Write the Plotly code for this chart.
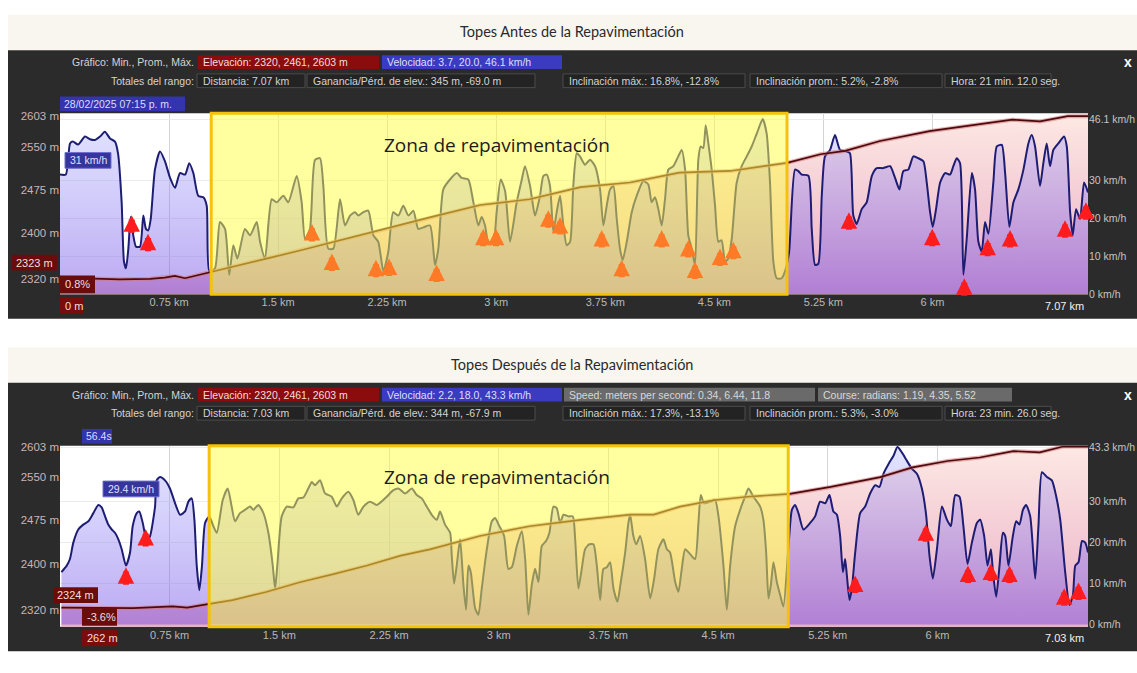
import plotly.graph_objects as go

W, H = 1137, 673

# ------------------------------------------------------------------ data
# Panel 1 (antes)
p1_title = "Topes Antes de la Repavimentación"
p1_total_km = 7.07
p1_zone = [1.04, 5.00]
p1_dist = [0.000, 0.040, 0.069, 0.089, 0.124, 0.172, 0.206, 0.241, 0.275, 0.309, 0.344, 0.378, 0.399, 0.424, 0.440,
           0.454, 0.470, 0.486, 0.504, 0.523, 0.550, 0.573, 0.591, 0.607, 0.624, 0.653, 0.688, 0.722, 0.757, 0.791,
           0.825, 0.860, 0.889, 0.917, 0.951, 0.986, 1.009, 1.027, 1.066, 1.100, 1.135, 1.164, 1.192, 1.220, 1.272,
           1.307, 1.353, 1.376, 1.410, 1.456, 1.490, 1.536, 1.570, 1.628, 1.662, 1.685, 1.719, 1.754, 1.788, 1.811,
           1.845, 1.880, 1.926, 1.960, 1.995, 2.029, 2.052, 2.086, 2.120, 2.155, 2.189, 2.224, 2.258, 2.292, 2.327,
           2.361, 2.396, 2.430, 2.464, 2.499, 2.545, 2.579, 2.602, 2.636, 2.682, 2.729, 2.763, 2.808, 2.843, 2.877,
           2.900, 2.923, 2.946, 2.980, 3.003, 3.031, 3.061, 3.095, 3.141, 3.176, 3.198, 3.233, 3.267, 3.301, 3.324,
           3.347, 3.370, 3.393, 3.416, 3.439, 3.462, 3.485, 3.508, 3.530, 3.554, 3.576, 3.611, 3.645, 3.680, 3.714,
           3.737, 3.760, 3.783, 3.806, 3.829, 3.851, 3.870, 3.898, 3.932, 3.966, 4.012, 4.046, 4.069, 4.092, 4.115,
           4.138, 4.161, 4.184, 4.218, 4.252, 4.276, 4.299, 4.321, 4.345, 4.367, 4.390, 4.406, 4.424, 4.441, 4.459,
           4.482, 4.505, 4.528, 4.550, 4.574, 4.596, 4.620, 4.654, 4.688, 4.723, 4.757, 4.792, 4.833, 4.860, 4.883,
           4.906, 4.929, 4.963, 4.986, 5.014, 5.055, 5.078, 5.101, 5.147, 5.170, 5.193, 5.215, 5.239, 5.261, 5.296,
           5.330, 5.365, 5.411, 5.433, 5.456, 5.479, 5.514, 5.548, 5.583, 5.617, 5.662, 5.709, 5.743, 5.773, 5.800,
           5.834, 5.869, 5.903, 5.938, 5.961, 5.984, 6.002, 6.025, 6.053, 6.087, 6.121, 6.144, 6.167, 6.190, 6.213,
           6.236, 6.271, 6.293, 6.316, 6.339, 6.362, 6.385, 6.419, 6.443, 6.477, 6.500, 6.529, 6.557, 6.591, 6.626,
           6.660, 6.683, 6.706, 6.740, 6.763, 6.786, 6.809, 6.832, 6.866, 6.905, 6.924, 6.947, 6.965, 6.988, 7.015,
           7.043, 7.070]
p1_speed = [31.5, 31.5, 39.7, 40.2, 39.4, 41.5, 40.8, 40.6, 41.5, 42.8, 41.0, 40.2, 37.1, 24.2, 8.6,
            6.8, 12.0, 20.3, 15.5, 12.5, 12.5, 20.7, 17.2, 16.8, 19.8, 32.8, 37.6, 35.0, 30.6, 28.0,
            31.9, 31.5, 34.5, 31.9, 25.9, 25.5, 23.3, 6.0, 6.8, 19.0, 17.2, 5.1, 12.9, 9.4, 17.2,
            15.5, 19.0, 13.8, 9.4, 25.0, 24.2, 25.9, 24.2, 31.1, 24.2, 14.6, 17.2, 35.4, 35.8, 28.5,
            12.0, 12.0, 25.0, 18.1, 20.7, 21.6, 20.7, 21.6, 22.0, 15.5, 13.8, 6.0, 11.2, 21.6, 20.7,
            23.3, 20.7, 22.0, 17.2, 17.6, 18.1, 7.7, 12.0, 27.6, 30.2, 31.9, 30.6, 30.2, 24.2, 18.1,
            20.3, 18.1, 13.8, 13.8, 21.6, 30.2, 27.2, 13.8, 24.2, 30.2, 33.7, 28.5, 20.7, 25.9, 31.1,
            31.5, 28.5, 16.4, 21.6, 25.9, 18.1, 12.9, 13.8, 28.5, 37.1, 36.3, 34.1, 35.4, 33.7, 27.6,
            18.1, 23.3, 27.6, 28.5, 19.8, 12.0, 9.0, 13.8, 21.6, 25.9, 29.8, 28.9, 24.2, 25.5, 22.4,
            18.1, 25.0, 32.8, 33.7, 36.3, 38.0, 32.8, 15.5, 12.0, 7.7, 35.4, 38.9, 38.5, 44.5, 39.7,
            32.8, 23.3, 13.8, 14.2, 8.6, 9.4, 14.6, 29.4, 33.7, 36.3, 38.9, 42.3, 46.1, 42.3, 29.4,
            8.6, 4.2, 4.2, 6.0, 11.0, 32.8, 32.4, 31.5, 31.2, 17.2, 7.7, 8.0, 25.9, 36.3, 38.0,
            41.9, 38.0, 37.6, 37.1, 20.7, 18.5, 22.4, 24.2, 31.1, 33.2, 33.2, 33.7, 30.6, 27.6, 32.4,
            32.8, 36.3, 35.8, 35.0, 29.4, 21.6, 17.7, 22.4, 29.4, 31.9, 31.5, 33.7, 35.8, 34.5, 5.1,
            14.6, 31.9, 27.6, 13.8, 11.2, 19.0, 15.9, 29.4, 38.9, 39.3, 31.9, 17.7, 24.2, 27.6, 32.8,
            39.7, 41.9, 38.9, 28.5, 34.5, 39.7, 33.7, 38.0, 39.7, 41.5, 38.9, 21.6, 15.5, 22.4, 19.8,
            29.4, 26.8]
p1_elev_dist = [0.00, 0.10, 0.21, 0.41, 0.62, 0.72, 0.79, 0.86, 0.96, 1.04, 1.08, 1.42, 1.65, 1.88, 2.11, 2.34,
                2.55, 2.89, 3.23, 3.58, 3.92, 4.26, 4.61, 5.00, 5.23, 5.40, 5.64, 5.98, 6.21, 6.55, 6.74, 6.93, 7.07]
p1_elev = [2323, 2322, 2321, 2320, 2321, 2323, 2326, 2322, 2328, 2333, 2336, 2356, 2370, 2385, 2399, 2414,
           2428, 2449, 2459, 2480, 2488, 2505, 2508, 2522, 2537, 2543, 2560, 2577, 2585, 2597, 2594, 2603, 2603]
p1_bump_dist = [0.493, 0.605, 1.733, 1.870, 2.173, 2.263, 2.590, 2.911, 2.999, 3.358, 3.439, 3.726, 3.863,
                4.138, 4.321, 4.367, 4.539, 4.631, 5.426, 5.999, 6.219, 6.380, 6.534, 6.912, 7.056]
p1_bump_speed = [20.8, 15.9, 18.5, 10.7, 9.1, 9.4, 7.8, 17.2, 17.2, 22.1, 20.3, 16.9, 9.1,
                 16.9, 14.3, 8.6, 12.0, 13.8, 21.6, 17.2, 4.2, 14.6, 16.9, 19.5, 24.2]
p1_speed_ticks = [0, 10, 20, 30, 46.1]
p1_speed_ticktext = ["0 km/h", "10 km/h", "20 km/h", "30 km/h", "46.1 km/h"]

# Panel 2 (después)
p2_title = "Topes Después de la Repavimentación"
p2_total_km = 7.03
p2_zone = [1.02, 4.98]
p2_dist = [0.010, 0.046, 0.068, 0.091, 0.125, 0.159, 0.194, 0.228, 0.262, 0.285, 0.308, 0.330, 0.354, 0.376, 0.399,
           0.422, 0.451, 0.479, 0.497, 0.525, 0.542, 0.566, 0.593, 0.616, 0.650, 0.661, 0.684, 0.718, 0.752, 0.787,
           0.821, 0.855, 0.878, 0.901, 0.919, 0.935, 0.953, 0.971, 0.992, 1.021, 1.049, 1.072, 1.113, 1.147, 1.174,
           1.197, 1.231, 1.265, 1.300, 1.322, 1.356, 1.391, 1.425, 1.455, 1.471, 1.486, 1.516, 1.551, 1.596, 1.630,
           1.664, 1.698, 1.722, 1.744, 1.778, 1.813, 1.858, 1.893, 1.927, 1.972, 2.006, 2.040, 2.075, 2.120, 2.166,
           2.234, 2.280, 2.314, 2.360, 2.406, 2.440, 2.474, 2.508, 2.542, 2.577, 2.599, 2.633, 2.668, 2.679, 2.695,
           2.713, 2.736, 2.759, 2.777, 2.793, 2.809, 2.839, 2.861, 2.884, 2.919, 2.953, 2.975, 3.005, 3.037, 3.066,
           3.090, 3.124, 3.158, 3.181, 3.203, 3.226, 3.249, 3.272, 3.295, 3.324, 3.347, 3.374, 3.397, 3.420, 3.443,
           3.477, 3.507, 3.523, 3.545, 3.568, 3.591, 3.620, 3.648, 3.671, 3.694, 3.716, 3.739, 3.762, 3.785, 3.812,
           3.835, 3.865, 3.887, 3.899, 3.921, 3.940, 3.967, 4.001, 4.036, 4.063, 4.092, 4.127, 4.150, 4.172, 4.207,
           4.229, 4.252, 4.275, 4.309, 4.343, 4.366, 4.382, 4.405, 4.446, 4.480, 4.503, 4.537, 4.560, 4.583, 4.617,
           4.651, 4.685, 4.708, 4.742, 4.788, 4.810, 4.829, 4.845, 4.861, 4.879, 4.902, 4.925, 4.947, 4.982, 5.005,
           5.027, 5.050, 5.084, 5.130, 5.164, 5.198, 5.233, 5.262, 5.289, 5.313, 5.335, 5.354, 5.369, 5.381, 5.399,
           5.415, 5.438, 5.472, 5.506, 5.540, 5.575, 5.604, 5.631, 5.666, 5.700, 5.727, 5.757, 5.791, 5.826, 5.860,
           5.894, 5.923, 5.946, 5.969, 5.997, 6.031, 6.065, 6.092, 6.122, 6.151, 6.178, 6.206, 6.236, 6.270, 6.293,
           6.320, 6.343, 6.366, 6.380, 6.402, 6.425, 6.448, 6.464, 6.486, 6.516, 6.539, 6.561, 6.585, 6.607, 6.635,
           6.669, 6.691, 6.715, 6.749, 6.783, 6.813, 6.840, 6.874, 6.903, 6.927, 6.943, 6.965, 6.989, 7.011, 7.030]
p2_speed = [12.8, 14.4, 16.0, 20.0, 23.2, 24.4, 25.2, 27.2, 29.2, 28.6, 26.4, 24.4, 23.2, 22.4, 20.8,
            18.4, 14.4, 17.6, 24.0, 27.2, 27.6, 24.8, 20.4, 21.6, 28.8, 35.2, 36.0, 35.2, 33.2, 29.6,
            26.8, 27.6, 30.0, 30.8, 25.6, 14.4, 8.4, 14.4, 24.8, 26.4, 24.0, 22.4, 30.4, 33.2, 28.8,
            25.2, 27.2, 28.0, 28.8, 28.0, 29.2, 27.2, 22.4, 14.4, 8.8, 14.4, 26.4, 28.8, 28.6, 30.8,
            31.0, 33.2, 34.8, 34.0, 35.2, 32.0, 31.2, 28.8, 30.8, 32.4, 30.4, 26.8, 28.8, 30.0, 29.2,
            31.2, 32.8, 33.2, 32.0, 33.2, 31.6, 30.8, 28.8, 26.8, 25.6, 27.6, 24.4, 22.4, 16.8, 10.0,
            14.4, 20.8, 9.6, 3.6, 14.4, 12.8, 4.0, 2.4, 8.8, 18.4, 25.2, 26.0, 24.0, 21.6, 13.6,
            14.0, 19.2, 22.8, 16.0, 2.4, 9.6, 13.6, 10.4, 19.2, 20.4, 22.4, 28.8, 28.4, 24.8, 26.8,
            26.4, 26.4, 20.8, 8.8, 13.6, 18.4, 19.6, 19.6, 14.4, 6.0, 13.6, 14.0, 15.2, 8.8, 5.6,
            10.4, 17.6, 24.8, 26.8, 21.6, 19.6, 21.6, 16.0, 6.4, 11.2, 18.4, 20.8, 18.4, 17.6, 10.4,
            8.0, 13.6, 18.4, 17.2, 16.0, 24.8, 31.6, 29.6, 30.0, 30.4, 26.4, 14.4, 3.6, 14.4, 24.0,
            28.0, 31.2, 33.2, 31.2, 28.8, 25.6, 17.6, 6.4, 9.6, 15.2, 10.4, 7.2, 4.4, 19.2, 28.0,
            29.2, 27.2, 23.2, 24.8, 26.4, 30.0, 29.6, 31.6, 27.6, 26.8, 21.6, 12.8, 16.0, 12.0, 6.0,
            8.8, 17.6, 27.2, 28.8, 32.0, 34.0, 33.6, 36.8, 39.2, 41.2, 43.3, 42.0, 40.0, 38.0, 36.8,
            33.2, 26.8, 16.8, 11.2, 18.4, 28.8, 25.6, 24.0, 31.6, 31.2, 24.0, 14.8, 20.0, 24.8, 25.6,
            21.6, 14.4, 18.4, 12.8, 6.8, 14.4, 22.4, 21.6, 14.4, 21.6, 25.2, 24.4, 28.0, 29.2, 26.4,
            11.2, 24.0, 37.2, 36.0, 35.2, 31.2, 25.6, 12.8, 4.8, 7.2, 14.4, 15.2, 20.4, 20.0, 17.6]
p2_elev_dist = [0.01, 0.14, 0.36, 0.50, 0.77, 0.87, 0.96, 1.03, 1.18, 1.41, 1.64, 1.87, 2.10, 2.33, 2.53, 2.87,
                3.21, 3.56, 3.90, 4.06, 4.24, 4.47, 4.70, 4.99, 5.27, 5.61, 5.83, 6.07, 6.29, 6.52, 6.70, 6.86, 7.03]
p2_elev = [2324, 2324, 2324, 2323, 2326, 2324, 2328, 2331, 2337, 2351, 2368, 2382, 2397, 2414, 2425, 2448,
           2465, 2476, 2485, 2485, 2499, 2510, 2516, 2521, 2533, 2550, 2567, 2578, 2584, 2595, 2593, 2603, 2603]
p2_bump_dist = [0.451, 0.586, 5.438, 5.921, 6.209, 6.366, 6.493, 6.867, 6.965]
p2_bump_speed = [14.0, 23.3, 12.0, 24.5, 14.4, 14.9, 14.4, 8.9, 10.3]
p2_speed_ticks = [0, 10, 20, 30, 43.3]
p2_speed_ticktext = ["0 km/h", "10 km/h", "20 km/h", "30 km/h", "43.3 km/h"]

elev_ticks = [2320, 2400, 2475, 2550, 2603]
elev_ticktext = ["2320 m", "2400 m", "2475 m", "2550 m", "2603 m"]
km_ticks = [0.75, 1.5, 2.25, 3, 3.75, 4.5, 5.25, 6]
km_ticktext = ["0.75 km", "1.5 km", "2.25 km", "3 km", "3.75 km", "4.5 km", "5.25 km", "6 km"]

p1_header = {
    "row1": ["Elevación: 2320, 2461, 2603 m", "Velocidad: 3.7, 20.0, 46.1 km/h"],
    "row2": ["Distancia: 7.07 km", "Ganancia/Pérd. de elev.: 345 m, -69.0 m",
             "Inclinación máx.: 16.8%, -12.8%", "Inclinación prom.: 5.2%, -2.8%", "Hora: 21 min. 12.0 seg."],
    "cursor": "28/02/2025 07:15 p. m.", "speed_lbl": "31 km/h", "elev_lbl": "2323 m",
    "grade_lbl": "0.8%", "dist_lbl": "0 m",
}
p2_header = {
    "row1": ["Elevación: 2320, 2461, 2603 m", "Velocidad: 2.2, 18.0, 43.3 km/h",
             "Speed: meters per second: 0.34, 6.44, 11.8", "Course: radians: 1.19, 4.35, 5.52"],
    "row2": ["Distancia: 7.03 km", "Ganancia/Pérd. de elev.: 344 m, -67.9 m",
             "Inclinación máx.: 17.3%, -13.1%", "Inclinación prom.: 5.3%, -3.0%", "Hora: 23 min. 26.0 seg."],
    "cursor": "56.4s", "speed_lbl": "29.4 km/h", "elev_lbl": "2324 m",
    "grade_lbl": "-3.6%", "dist_lbl": "262 m",
}

# ------------------------------------------------------------------ helpers
def px(x):
    return x / W


def py(y):
    return 1 - y / H


FONT = "Liberation Sans, Arial, sans-serif"
TITLE_FONT = "Lato, Open Sans, sans-serif"
ZONE_FONT = "Open Sans, Lato, sans-serif"

fig = go.Figure()
shapes = []
annotations = []


def rect(x0, y0, x1, y1, fill, line=None, lw=1, layer="above"):
    shapes.append(dict(type="rect", xref="paper", yref="paper", x0=px(x0), x1=px(x1), y0=py(y1), y1=py(y0),
                       fillcolor=fill, line=dict(color=line or "rgba(0,0,0,0)", width=lw if line else 0),
                       layer=layer))


def text(t, x, y, color="#d4d4d4", size=10.5, anchor="left", family=FONT):
    annotations.append(dict(text=t, xref="paper", yref="paper", x=px(x), y=py(y), xanchor=anchor,
                            yanchor="middle", showarrow=False, font=dict(color=color, size=size, family=family)))


def panel(k, top, title, total_km, zone, dist, speed, edist, elev, bdist, bspeed,
          sticks, sticktext, e_range, s_range, hdr, row1_boxes, extra_lbls):
    # top = y of the dark panel's top edge
    plot_top, plot_bot = top + 64, top + 64 + 184
    xa = "x" if k == 1 else "x2"
    ye, ys, yl = ("y", "y2", "y5") if k == 1 else ("y3", "y4", "y6")
    xkey = "xaxis" if k == 1 else "xaxis2"
    ekey, skey, lkey = ("yaxis", "yaxis2", "yaxis5") if k == 1 else ("yaxis3", "yaxis4", "yaxis6")

    # backgrounds
    rect(8, top - 36, W, top, "#f8f6ee", layer="below")
    rect(8, top, W, plot_bot + 25, "#2b2b2b", layer="below")
    rect(60, plot_top, 1088, plot_bot, "#ffffff", layer="below")
    text(title, 572, top - 19, color="#2a2a2a", size=14.5, anchor="center", family=TITLE_FONT)

    # traces
    fig.add_trace(go.Scatter(x=edist, y=elev, xaxis=xa, yaxis=ye, mode="lines", fill="tozeroy",
                             line=dict(width=0, color="rgba(0,0,0,0)"),
                             fillgradient=dict(type="vertical", start=e_range[0], stop=e_range[1],
                                               colorscale=[[0, "rgb(234,172,196)"], [1, "rgb(253,233,228)"]]),
                             hoverinfo="skip", showlegend=False))
    fig.add_trace(go.Scatter(x=dist, y=speed, xaxis=xa, yaxis=ys, mode="lines", fill="tozeroy",
                             line=dict(color="#1d1d74", width=2, shape="spline", smoothing=0.6),
                             fillgradient=dict(type="vertical", start=s_range[0], stop=s_range[1],
                                               colorscale=[[0, "rgba(118,78,228,0.50)"],
                                                           [1, "rgba(150,158,255,0.28)"]]),
                             hoverinfo="skip", showlegend=False))
    fig.add_trace(go.Scatter(x=edist, y=elev, xaxis=xa, yaxis=yl, mode="lines",
                             line=dict(color="rgba(215,120,120,0.6)", width=4), hoverinfo="skip",
                             showlegend=False))
    fig.add_trace(go.Scatter(x=edist, y=elev, xaxis=xa, yaxis=yl, mode="lines",
                             line=dict(color="#4a0b10", width=1.7), hoverinfo="skip", showlegend=False))

    dom_x = [px(60), px(1088)]
    dom_y = [py(plot_bot), py(plot_top)]
    fig.layout[xkey] = dict(domain=dom_x, range=[0, total_km], anchor=ye, tickvals=km_ticks,
                            ticktext=km_ticktext, showgrid=True, gridcolor="#d4d4d4", gridwidth=1,
                            zeroline=False, showline=False, ticks="",
                            tickfont=dict(color="#b8b8b8", size=11, family=FONT), fixedrange=True)
    fig.layout[ekey] = dict(domain=dom_y, range=e_range, anchor=xa, tickvals=elev_ticks,
                            ticktext=elev_ticktext, showgrid=False, zeroline=False, ticks="",
                            tickfont=dict(color="#cdb3b3", size=11.5, family=FONT), fixedrange=True)
    fig.layout[skey] = dict(range=s_range, overlaying=ye, side="right", anchor=xa, tickvals=sticks,
                            ticktext=sticktext, showgrid=True, gridcolor="#ececec", zeroline=False, ticks="",
                            tickfont=dict(color="#c4c4c4", size=10.5, family=FONT), fixedrange=True)
    fig.layout[lkey] = dict(range=e_range, overlaying=ye, visible=False, fixedrange=True)

    # repaving zone
    shapes.append(dict(type="rect", xref=xa, yref=f"{ye} domain", x0=zone[0], x1=zone[1], y0=0, y1=1,
                       fillcolor="rgba(255,255,70,0.52)", line=dict(color="#f4c20a", width=3), layer="above"))
    text("Zona de repavimentación", 497, plot_top + 32, color="#1c1c1c", size=19, anchor="center",
         family=ZONE_FONT)

    # speed bumps (arrows)
    for bx, bv in zip(bdist, bspeed):
        col = "#ff7a26" if zone[0] <= bx <= zone[1] else "#ff1c1c"
        annotations.append(dict(x=bx, y=bv, xref=xa, yref=ys, text="", showarrow=True, ax=0, ay=19,
                                arrowhead=2, arrowsize=0.55, arrowwidth=6, arrowcolor=col, standoff=0))

    # header rows
    r1, r2 = top + 12, top + 31
    text("Gráfico: Min., Prom., Máx.", 196, r1, anchor="right")
    text("Totales del rango:", 196, r2, anchor="right")
    row1_colors = ["#8a0c0c", "#3b3bc2", "#6a6a6a", "#6a6a6a"]
    row1_fg = ["#f3dede", "#dedeff", "#d8d8d8", "#d8d8d8"]
    for i, ((bx0, bx1), t) in enumerate(zip(row1_boxes, hdr["row1"])):
        rect(bx0, r1 - 7, bx1, r1 + 7, row1_colors[i])
        text(t, bx0 + 3, r1, color=row1_fg[i])
    row2_boxes = [(197, 305), (307, 535), (563, 745), (750, 942), (945, 1051)]
    for (bx0, bx1), t in zip(row2_boxes, hdr["row2"]):
        rect(bx0, r2 - 7, bx1, r2 + 7, "#232323", line="#4c4c4c")
        text(t, bx0 + 4, r2)
    text("<b>x</b>", 1128, r1, color="#ffffff", size=14, anchor="center")

    # cursor / readout labels
    (cx0, cx1), (sx0, sy), (ey) = extra_lbls
    rect(cx0, top + 47, cx1, top + 62, "#3434ae")
    text(hdr["cursor"], cx0 + 2, top + 54.5, color="#dcdcff")
    sw = 46 if len(hdr["speed_lbl"]) < 8 else 56
    rect(sx0, sy - 8, sx0 + sw, sy + 8, "#35359c", line="#6f6fd0")
    text(hdr["speed_lbl"], sx0 + 3, sy, color="#e0e0ff")
    ex0 = 12 if k == 1 else 53
    rect(ex0, ey - 8, ex0 + 45, ey + 8, "#6a0c0c")
    text(hdr["elev_lbl"], ex0 + 2, ey, color="#f2dcdc", size=11)
    gx0 = 60 if k == 1 else 82
    rect(gx0, plot_bot - 19, gx0 + 35, plot_bot - 1, "#6a0c0c")
    text(hdr["grade_lbl"], gx0 + 3, plot_bot - 10, color="#f2dcdc", size=11)
    dw = 23 if k == 1 else 35
    rect(gx0, plot_bot + 3, gx0 + dw, plot_bot + 20, "#7a0c0c")
    text(hdr["dist_lbl"], gx0 + 3, plot_bot + 11.5, color="#f2dcdc", size=11)
    text(f"{total_km:.2f} km", 1086, plot_bot + 12, color="#f2f2f2", size=11, anchor="right")


panel(1, 46, p1_title, p1_total_km, p1_zone, p1_dist, p1_speed, p1_elev_dist, p1_elev,
      p1_bump_dist, p1_bump_speed, p1_speed_ticks, p1_speed_ticktext, [2294.3, 2608.2], [0, 47.66],
      p1_header, [(198, 379), (382, 562)], ((60, 185), (65, 158), 262))
panel(2, 384, p2_title, p2_total_km, p2_zone, p2_dist, p2_speed, p2_elev_dist, p2_elev,
      p2_bump_dist, p2_bump_speed, p2_speed_ticks, p2_speed_ticktext, [2291, 2604.5], [-0.5, 43.65],
      p2_header, [(198, 379), (382, 562), (564, 815), (818, 1012)], ((82, 112), (103, 492), 600))

fig.update_layout(width=W, height=H, margin=dict(l=0, r=0, t=0, b=0), paper_bgcolor="#ffffff",
                  plot_bgcolor="rgba(0,0,0,0)", shapes=shapes, annotations=annotations, showlegend=False,
                  font=dict(family=FONT), hovermode=False)
fig.write_html("out.html", config={"displayModeBar": False, "staticPlot": True},
               post_script="document.body.style.margin='0px';document.body.style.overflow='hidden';")
